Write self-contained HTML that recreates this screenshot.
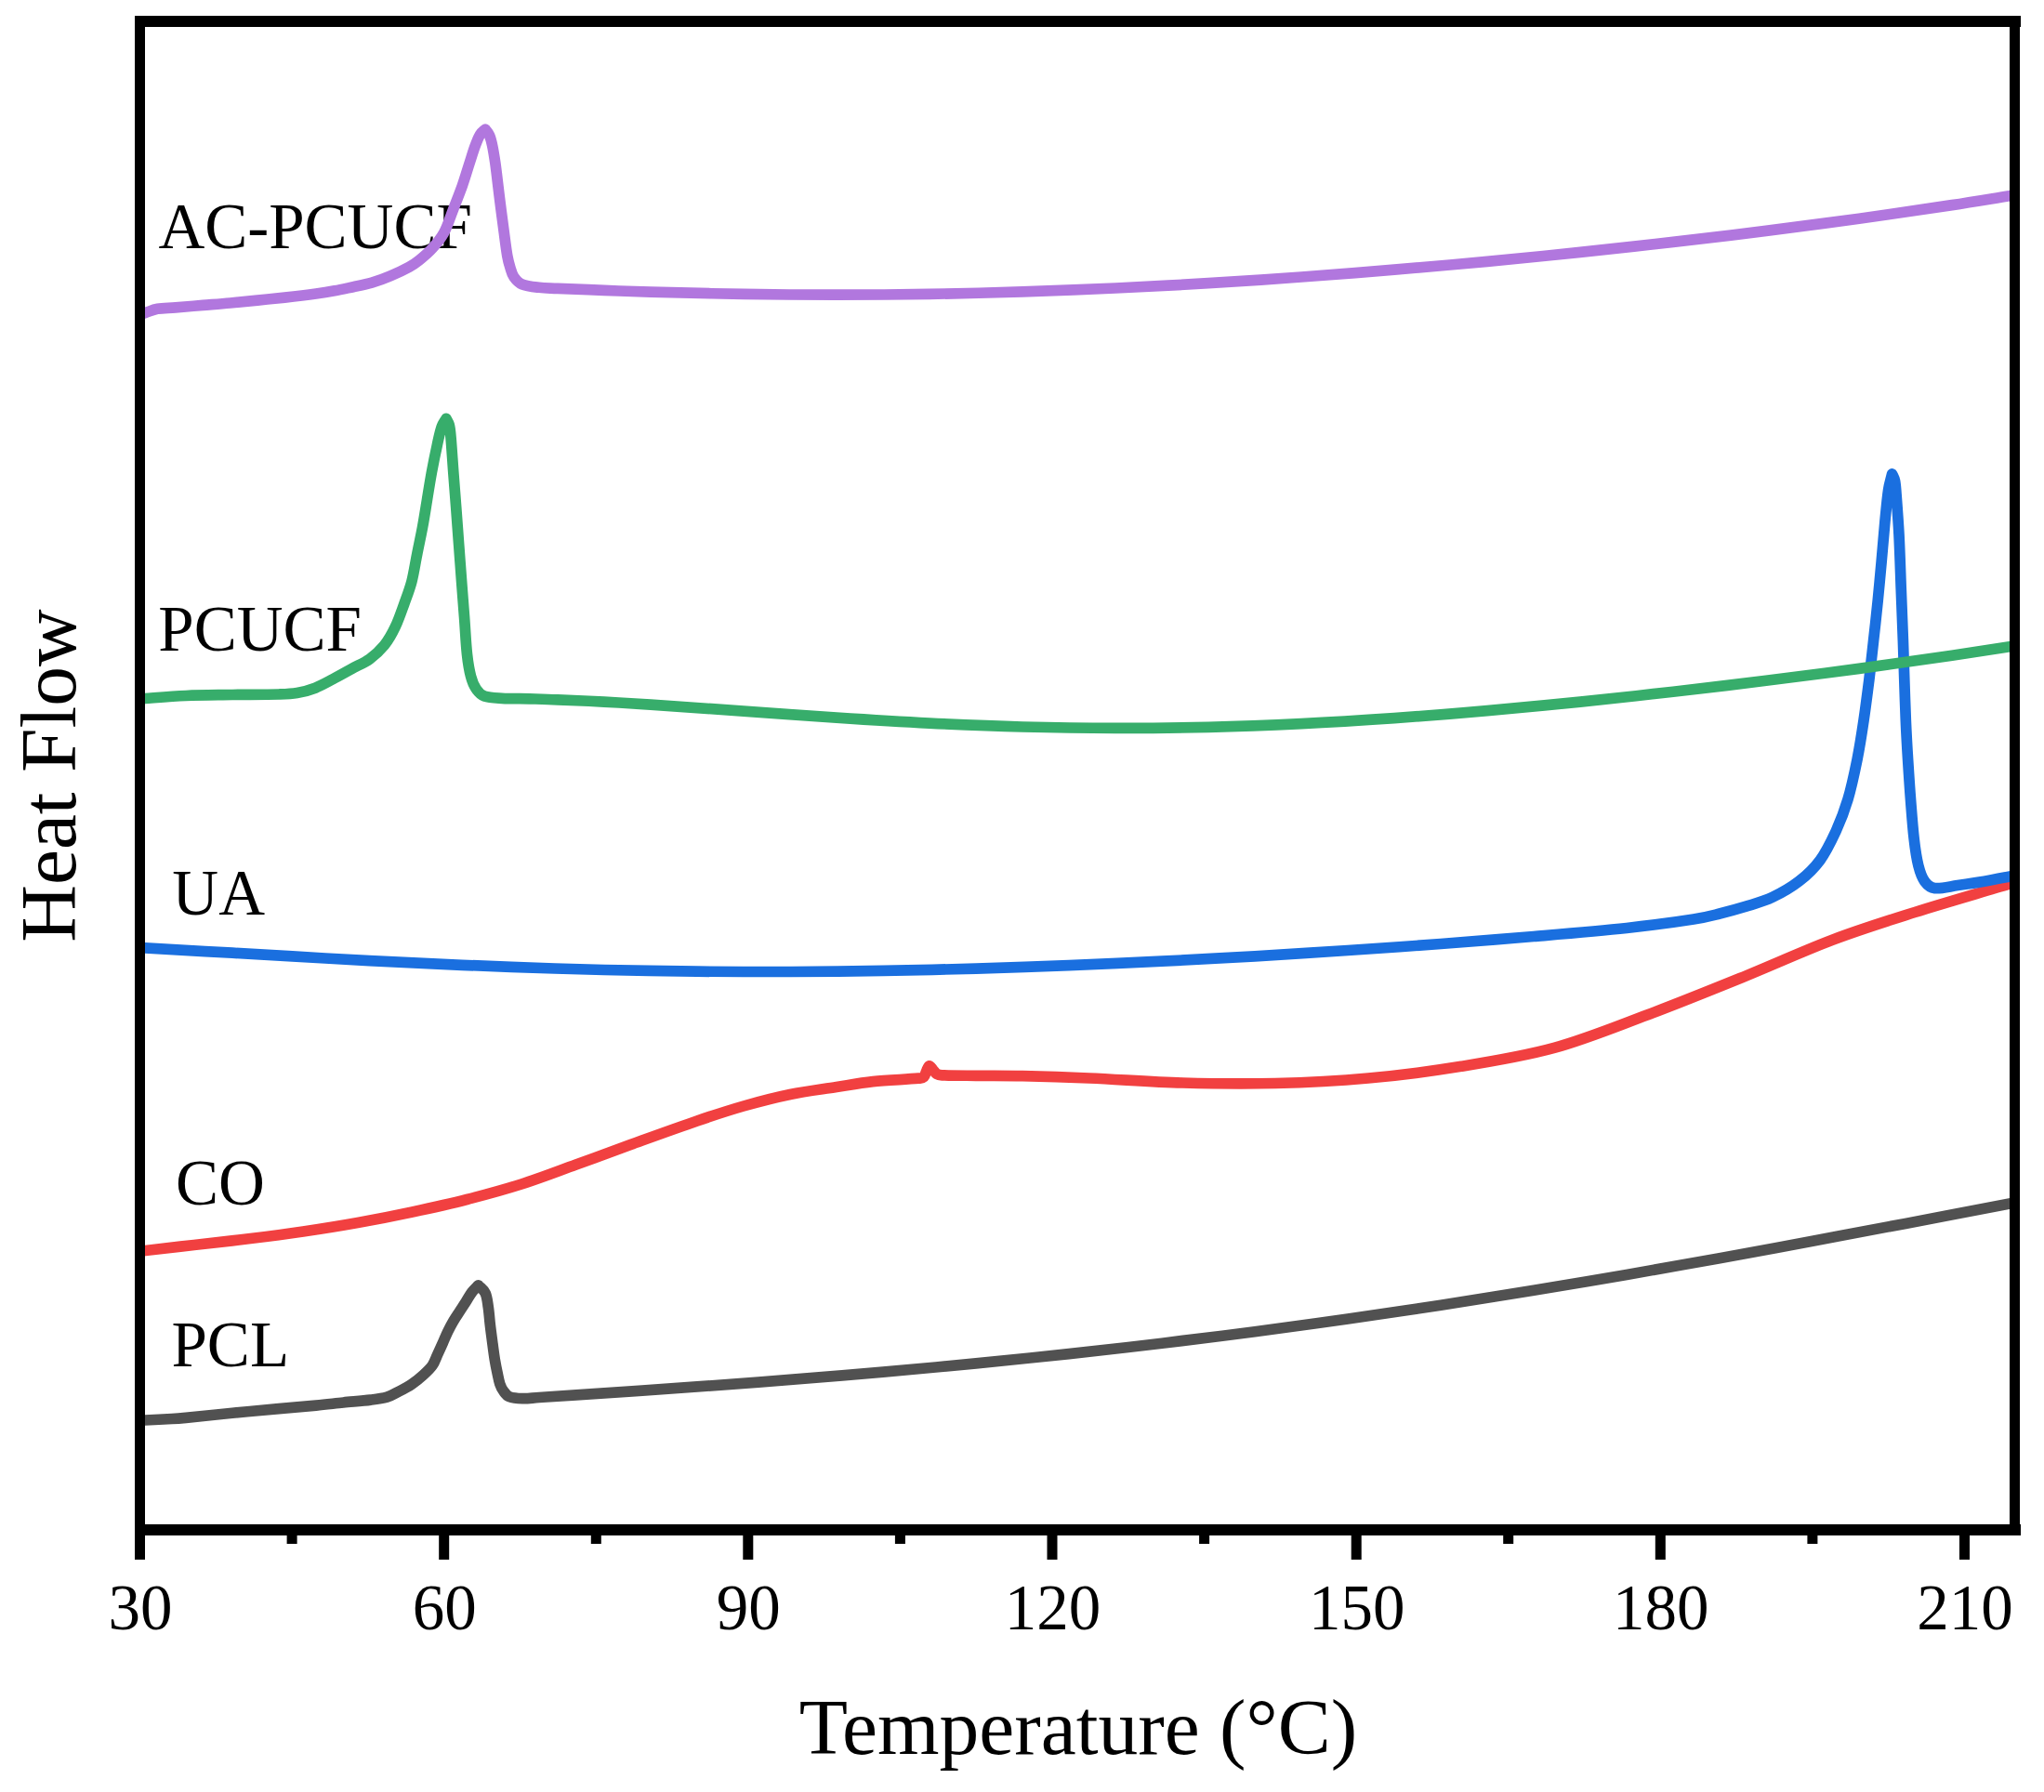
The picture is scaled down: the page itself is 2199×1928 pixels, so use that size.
<!DOCTYPE html>
<html><head><meta charset="utf-8"><title>DSC Heat Flow</title>
<style>
html,body{margin:0;padding:0;background:#fff;}
body{width:2199px;height:1928px;overflow:hidden;}
svg{display:block;}
svg text{font-family:"Liberation Serif","Times New Roman",serif;fill:#000;}
</style></head><body>
<svg width="2199" height="1928" viewBox="0 0 2199 1928">
<rect width="2199" height="1928" fill="#fff"/>
<g id="labels">
<text x="170.4" y="266.7" font-size="69.0">AC-PCUCF</text>
<text x="170.3" y="700.0" font-size="69.0">PCUCF</text>
<text x="185.3" y="983.8" font-size="69.0">UA</text>
<text x="189.0" y="1295.5" font-size="69.0">CO</text>
<text x="184.5" y="1470.3" font-size="69.0">PCL</text>
</g>
<g id="curves" clip-path="url(#plotclip)">
<clipPath id="plotclip"><rect x="150" y="23" width="2018" height="1623"/></clipPath>
<path d="M146.0 1528.4 C149.3 1528.3 151.2 1528.2 156.0 1528.0 C164.2 1527.6 176.5 1527.0 185.0 1526.5 C191.1 1526.1 192.3 1526.0 200.0 1525.3 C214.0 1524.0 233.3 1521.9 250.0 1520.3 C266.7 1518.7 284.2 1517.1 300.0 1515.7 C314.2 1514.4 327.5 1513.3 340.0 1512.1 C350.7 1511.1 359.6 1510.0 369.4 1509.0 C379.2 1508.0 389.9 1507.2 398.7 1506.1 C405.5 1505.3 411.0 1504.7 416.3 1503.2 C420.8 1501.9 424.0 1499.8 428.1 1497.6 C432.8 1495.2 438.2 1492.5 442.8 1489.4 C447.2 1486.4 451.4 1483.0 455.2 1479.5 C458.8 1476.2 462.6 1472.8 465.2 1469.0 C467.7 1465.5 468.7 1461.6 470.5 1457.7 C472.4 1453.6 474.3 1449.4 476.2 1445.2 C478.1 1441.0 479.8 1436.7 481.7 1432.7 C483.6 1428.8 485.5 1425.1 487.7 1421.4 C489.9 1417.6 492.6 1413.8 495.0 1410.1 C497.2 1406.7 499.4 1403.4 501.5 1400.1 C503.6 1396.8 505.5 1393.1 507.8 1390.1 C509.9 1387.3 512.3 1385.2 514.6 1382.8 C517.1 1385.6 520.6 1387.7 522.2 1391.3 C524.1 1395.5 524.5 1401.0 525.3 1406.4 C526.2 1412.3 526.6 1418.9 527.3 1425.2 C528.0 1431.4 528.9 1437.7 529.7 1443.9 C530.5 1450.2 531.3 1456.8 532.3 1462.7 C533.2 1468.1 534.2 1473.1 535.2 1477.8 C536.1 1481.9 536.7 1485.6 537.8 1489.0 C538.8 1491.9 539.9 1494.3 541.6 1496.5 C543.3 1498.8 544.8 1501.4 547.8 1502.6 C551.6 1504.1 556.9 1504.5 562.0 1504.6 C567.7 1504.8 572.2 1504.0 580.0 1503.5 C591.6 1502.7 605.0 1501.9 620.0 1500.9 C638.4 1499.6 659.2 1498.3 680.0 1496.8 C702.5 1495.3 724.2 1493.8 750.0 1491.9 C780.9 1489.7 816.7 1487.1 850.0 1484.4 C883.3 1481.8 916.7 1479.0 950.0 1476.1 C983.3 1473.2 1016.7 1470.1 1050.0 1466.9 C1083.3 1463.6 1116.7 1460.2 1150.0 1456.6 C1183.3 1453.0 1216.7 1449.2 1250.0 1445.2 C1283.3 1441.3 1316.7 1437.1 1350.0 1432.7 C1383.3 1428.3 1416.7 1423.8 1450.0 1419.0 C1483.3 1414.3 1516.7 1409.3 1550.0 1404.2 C1583.3 1399.0 1616.7 1393.7 1650.0 1388.3 C1683.3 1382.8 1716.7 1377.1 1750.0 1371.4 C1783.3 1365.6 1816.7 1359.7 1850.0 1353.7 C1883.3 1347.6 1916.7 1341.5 1950.0 1335.2 C1983.3 1329.0 2015.7 1322.9 2050.0 1316.4 C2086.3 1309.5 2130.7 1301.0 2162.0 1295.0 C2171.4 1293.2 2168.7 1293.7 2172.0 1293.1" fill="none" stroke="#515151" stroke-width="11.7" stroke-linejoin="round" stroke-linecap="butt"/>
<path d="M146.0 1346.7 C149.5 1346.3 150.0 1346.2 156.5 1345.5 C170.9 1343.8 190.8 1341.6 208.7 1339.5 C227.7 1337.3 247.8 1335.2 267.4 1332.8 C287.0 1330.4 306.6 1327.9 326.1 1325.0 C345.7 1322.1 365.3 1319.0 384.8 1315.5 C404.4 1312.0 424.0 1308.2 443.5 1304.0 C463.1 1299.8 482.8 1295.5 502.3 1290.5 C521.9 1285.5 541.5 1280.2 561.0 1274.0 C580.7 1267.7 600.1 1260.1 619.7 1253.0 C639.3 1245.9 657.7 1239.0 678.4 1231.5 C701.2 1223.3 727.9 1213.6 750.0 1206.0 C768.4 1199.7 783.3 1194.8 800.0 1190.0 C816.6 1185.3 833.3 1180.9 850.0 1177.5 C866.6 1174.1 884.2 1172.0 900.0 1169.5 C913.9 1167.3 925.2 1165.1 939.1 1163.6 C954.6 1162.0 974.6 1161.4 988.1 1160.2 C992.8 1159.8 992.5 1160.0 993.9 1158.7 C995.4 1157.2 995.9 1154.0 996.9 1151.9 C997.8 1150.0 998.7 1147.0 999.8 1146.8 C1000.9 1146.6 1002.4 1149.5 1003.7 1150.9 C1005.0 1152.3 1006.0 1154.3 1007.6 1155.3 C1009.2 1156.3 1009.4 1156.6 1013.5 1156.8 C1023.5 1157.3 1036.7 1157.2 1050.0 1157.3 C1065.5 1157.5 1081.5 1157.3 1100.0 1157.7 C1122.2 1158.2 1145.7 1158.9 1172.0 1160.0 C1203.0 1161.3 1238.7 1164.1 1272.0 1165.0 C1305.3 1165.9 1338.7 1166.3 1372.0 1165.5 C1405.3 1164.7 1438.7 1163.0 1472.0 1160.0 C1505.4 1157.0 1538.8 1152.7 1572.0 1147.3 C1605.4 1141.9 1639.0 1136.5 1672.0 1127.4 C1705.7 1118.1 1738.8 1104.4 1772.0 1092.0 C1805.4 1079.5 1838.7 1066.0 1872.0 1052.5 C1905.4 1039.0 1939.5 1023.3 1972.0 1011.0 C2002.1 999.6 2029.4 991.2 2060.0 981.5 C2092.8 971.2 2133.6 959.6 2162.0 951.0 C2170.9 948.3 2168.7 948.8 2172.0 947.7" fill="none" stroke="#F14040" stroke-width="11.7" stroke-linejoin="round" stroke-linecap="butt"/>
<path d="M146.0 1019.4 C149.3 1019.5 147.5 1019.4 156.0 1019.9 C182.1 1021.4 218.2 1023.4 250.0 1025.2 C282.8 1027.1 316.7 1029.1 350.0 1031.0 C383.3 1032.8 416.7 1034.6 450.0 1036.2 C483.3 1037.7 516.7 1039.2 550.0 1040.4 C583.3 1041.6 616.7 1042.7 650.0 1043.5 C683.3 1044.3 716.7 1044.8 750.0 1045.2 C783.3 1045.5 816.7 1045.6 850.0 1045.5 C883.3 1045.4 916.7 1045.0 950.0 1044.4 C983.3 1043.9 1016.7 1043.1 1050.0 1042.1 C1083.3 1041.1 1116.7 1040.0 1150.0 1038.7 C1183.3 1037.3 1216.7 1035.8 1250.0 1034.2 C1283.3 1032.5 1316.7 1030.7 1350.0 1028.8 C1383.3 1026.8 1416.7 1024.8 1450.0 1022.5 C1483.3 1020.3 1516.7 1018.0 1550.0 1015.5 C1583.3 1013.0 1616.7 1010.4 1650.0 1007.5 C1683.3 1004.7 1719.0 1001.8 1750.0 998.5 C1776.3 995.6 1801.5 992.2 1822.0 989.0 C1834.9 987.0 1840.7 985.3 1850.0 983.0 C1859.5 980.7 1869.1 978.1 1878.5 975.2 C1888.0 972.2 1897.7 969.7 1906.9 965.3 C1916.6 960.7 1926.8 954.9 1935.4 948.2 C1943.9 941.6 1951.6 934.2 1958.1 925.4 C1964.9 916.2 1970.2 904.9 1975.2 894.1 C1980.2 883.1 1984.4 872.2 1988.0 860.0 C1992.0 846.6 1995.1 831.6 1998.0 817.3 C2000.8 803.1 2003.0 788.9 2005.1 774.6 C2007.2 760.4 2009.0 746.1 2010.8 731.9 C2012.5 717.7 2014.0 703.4 2015.6 689.2 C2017.2 675.0 2018.8 660.7 2020.2 646.5 C2021.6 632.3 2022.9 618.0 2024.2 603.8 C2025.5 589.6 2026.6 574.7 2027.9 561.2 C2029.1 549.1 2030.1 537.0 2031.6 527.0 C2032.7 519.9 2034.3 515.6 2035.6 509.9 C2036.6 512.3 2037.9 513.9 2038.5 517.0 C2039.4 521.5 2039.5 525.3 2040.1 532.7 C2041.0 544.8 2042.2 560.0 2043.0 575.4 C2043.9 593.2 2044.5 613.3 2045.2 632.3 C2045.9 651.3 2046.8 671.4 2047.4 689.2 C2048.0 704.6 2048.3 717.7 2048.8 731.9 C2049.3 746.1 2049.7 760.4 2050.3 774.6 C2050.9 788.8 2051.7 803.1 2052.6 817.3 C2053.5 831.5 2054.4 845.8 2055.5 860.0 C2056.6 874.2 2057.7 889.7 2059.2 902.7 C2060.4 913.4 2061.7 922.7 2063.8 931.1 C2065.5 937.8 2067.4 943.8 2070.6 948.2 C2073.3 951.9 2076.5 955.0 2081.5 955.6 C2088.3 956.4 2097.6 953.7 2106.1 952.5 C2115.3 951.2 2125.2 949.8 2134.6 948.2 C2143.9 946.6 2154.4 944.5 2162.2 943.0 C2166.9 942.1 2168.7 941.8 2172.0 941.2" fill="none" stroke="#1A6FDF" stroke-width="11.7" stroke-linejoin="round" stroke-linecap="butt"/>
<path d="M150.0 752.0 C152.0 751.8 151.5 751.8 156.0 751.5 C168.2 750.6 184.8 749.1 200.0 748.5 C216.2 747.8 233.3 747.8 250.0 747.5 C266.7 747.3 285.7 747.4 300.0 747.0 C308.9 746.7 313.1 746.6 319.6 745.5 C326.2 744.4 332.7 742.7 339.1 740.2 C345.7 737.6 352.2 733.8 358.7 730.4 C365.3 726.9 371.8 723.2 378.3 719.6 C384.8 716.0 391.9 713.2 397.8 708.9 C403.6 704.7 409.0 699.8 413.5 694.2 C418.1 688.4 421.8 681.8 425.2 674.6 C428.9 666.8 432.0 657.5 435.0 649.2 C437.9 641.2 440.7 634.1 442.9 625.7 C445.3 616.5 446.7 606.1 448.7 596.3 C450.6 586.5 452.8 576.8 454.6 567.0 C456.4 557.2 457.9 547.4 459.5 537.6 C461.1 527.8 462.6 518.1 464.4 508.3 C466.2 498.5 468.3 487.9 470.3 478.9 C471.9 471.6 473.2 464.9 475.1 459.4 C476.4 455.4 478.4 453.4 480.0 450.4 C481.1 452.6 482.5 454.3 483.2 457.0 C484.1 460.5 484.4 463.0 484.9 469.1 C485.9 480.1 486.8 495.2 487.8 508.3 C488.8 521.3 489.8 534.4 490.8 547.4 C491.8 560.5 492.7 573.5 493.7 586.6 C494.7 599.6 495.6 612.7 496.6 625.7 C497.6 638.7 498.6 651.8 499.6 664.8 C500.6 677.9 501.2 692.3 502.5 704.0 C503.5 713.2 504.7 720.6 506.5 727.5 C507.9 733.0 509.7 737.4 512.3 741.2 C514.6 744.6 517.0 747.5 521.1 749.0 C526.3 750.9 532.8 750.9 540.0 751.3 C549.1 751.8 560.0 751.6 570.0 751.8 C580.0 752.1 588.4 752.3 600.0 752.8 C615.0 753.4 633.3 754.2 650.0 755.1 C666.7 756.0 679.3 756.7 700.0 758.1 C729.3 760.1 766.7 762.8 800.0 765.1 C833.3 767.5 866.7 770.1 900.0 772.2 C933.3 774.4 966.7 776.5 1000.0 778.1 C1033.3 779.7 1066.7 781.1 1100.0 782.0 C1133.3 782.9 1166.7 783.4 1200.0 783.4 C1233.3 783.5 1266.7 783.1 1300.0 782.3 C1333.3 781.5 1366.7 780.2 1400.0 778.6 C1433.3 777.0 1466.7 774.9 1500.0 772.6 C1533.3 770.3 1566.7 767.6 1600.0 764.6 C1633.3 761.7 1666.7 758.5 1700.0 755.1 C1733.3 751.7 1766.7 748.0 1800.0 744.2 C1833.3 740.4 1866.7 736.4 1900.0 732.3 C1933.3 728.2 1966.7 723.9 2000.0 719.4 C2033.3 714.8 2069.8 709.6 2100.0 705.2 C2123.8 701.7 2144.9 698.3 2162.0 695.7 C2168.9 694.6 2168.7 694.6 2172.0 694.1" fill="none" stroke="#37AD6B" stroke-width="11.7" stroke-linejoin="round" stroke-linecap="butt"/>
<path d="M150.0 338.5 C152.0 337.9 153.4 337.4 156.0 336.6 C159.9 335.4 164.4 333.2 169.4 332.3 C175.3 331.3 181.6 331.5 188.9 330.9 C197.9 330.2 208.5 329.2 218.3 328.4 C228.1 327.6 237.8 326.9 247.6 326.0 C257.4 325.1 267.2 324.1 277.0 323.1 C286.8 322.1 296.2 321.2 306.3 320.1 C317.2 318.9 329.9 317.4 340.0 316.0 C347.8 314.9 353.3 314.0 360.0 312.8 C366.7 311.6 373.3 310.1 380.0 308.7 C386.7 307.3 393.4 306.1 400.0 304.2 C406.7 302.2 413.4 299.7 420.0 296.9 C426.7 294.1 434.2 290.6 440.0 287.4 C444.5 284.9 447.2 283.1 451.0 280.0 C455.6 276.3 460.8 272.0 465.1 267.2 C469.7 262.1 474.2 256.9 477.7 250.3 C481.7 242.9 484.3 233.7 487.6 225.3 C490.8 217.0 494.2 208.6 497.2 200.2 C500.1 191.9 502.7 183.0 505.2 175.2 C507.4 168.4 509.3 162.0 511.4 156.4 C513.1 151.9 514.5 148.0 516.5 144.8 C518.1 142.2 520.2 141.0 522.1 139.1 C523.6 141.2 525.4 142.9 526.5 145.5 C527.9 148.7 528.7 152.1 529.6 156.4 C530.8 162.0 531.8 168.4 532.8 175.2 C533.9 183.0 534.9 191.9 535.9 200.2 C536.9 208.6 537.9 216.9 539.0 225.3 C540.1 233.6 541.2 242.0 542.3 250.3 C543.4 258.7 544.5 268.1 545.8 275.4 C546.7 280.6 547.7 284.0 548.9 287.9 C550.0 291.5 550.7 295.0 552.8 297.9 C555.0 301.0 557.6 304.2 561.6 305.9 C566.6 308.0 573.7 308.6 580.0 309.3 C586.5 310.1 591.0 309.9 600.0 310.3 C614.3 310.9 633.3 311.7 650.0 312.4 C666.7 313.0 679.3 313.5 700.0 314.1 C729.3 314.9 766.7 315.9 800.0 316.4 C833.3 316.9 866.7 317.2 900.0 317.2 C933.3 317.2 966.7 316.9 1000.0 316.4 C1033.3 315.8 1066.7 315.0 1100.0 313.9 C1133.3 312.9 1166.7 311.5 1200.0 310.0 C1233.3 308.5 1266.7 306.7 1300.0 304.7 C1333.3 302.7 1366.7 300.4 1400.0 298.0 C1433.3 295.6 1466.7 293.0 1500.0 290.2 C1533.3 287.4 1566.7 284.5 1600.0 281.3 C1633.3 278.2 1666.7 274.9 1700.0 271.4 C1733.3 267.9 1766.7 264.2 1800.0 260.4 C1833.3 256.6 1866.7 252.6 1900.0 248.4 C1933.3 244.2 1966.7 239.8 2000.0 235.2 C2033.3 230.6 2069.8 225.2 2100.0 220.6 C2123.8 217.0 2144.9 213.4 2162.0 210.7 C2168.9 209.6 2168.7 209.6 2172.0 209.0" fill="none" stroke="#B177DE" stroke-width="11.7" stroke-linejoin="round" stroke-linecap="butt"/>
</g>
<g id="frame" fill="#000">
<rect x="145" y="17" width="2029" height="12"/>
<rect x="145" y="1640" width="2029" height="12"/>
<rect x="145" y="17" width="11" height="1635"/>
<rect x="2162" y="17" width="11" height="1635"/>
</g>
<g id="ticks">
<rect x="145.0" y="1646" width="11" height="32" fill="#000"/>
<text x="151.0" y="1752.7" font-size="69.0" text-anchor="middle">30</text>
<rect x="472.2" y="1646" width="11" height="32" fill="#000"/>
<text x="478.2" y="1752.7" font-size="69.0" text-anchor="middle">60</text>
<rect x="799.3" y="1646" width="11" height="32" fill="#000"/>
<text x="805.3" y="1752.7" font-size="69.0" text-anchor="middle">90</text>
<rect x="1126.5" y="1646" width="11" height="32" fill="#000"/>
<text x="1132.5" y="1752.7" font-size="69.0" text-anchor="middle">120</text>
<rect x="1453.7" y="1646" width="11" height="32" fill="#000"/>
<text x="1459.7" y="1752.7" font-size="69.0" text-anchor="middle">150</text>
<rect x="1780.8" y="1646" width="11" height="32" fill="#000"/>
<text x="1786.8" y="1752.7" font-size="69.0" text-anchor="middle">180</text>
<rect x="2108.0" y="1646" width="11" height="32" fill="#000"/>
<text x="2114.0" y="1752.7" font-size="69.0" text-anchor="middle">210</text>
<rect x="308.6" y="1646" width="11" height="15" fill="#000"/>
<rect x="635.8" y="1646" width="11" height="15" fill="#000"/>
<rect x="962.9" y="1646" width="11" height="15" fill="#000"/>
<rect x="1290.1" y="1646" width="11" height="15" fill="#000"/>
<rect x="1617.2" y="1646" width="11" height="15" fill="#000"/>
<rect x="1944.4" y="1646" width="11" height="15" fill="#000"/>
</g>
<text x="1160" y="1887.4" font-size="85.5" text-anchor="middle">Temperature (°C)</text>
<text transform="translate(81,834.5) rotate(-90)" font-size="85.5" text-anchor="middle">Heat Flow</text>
</svg>
</body></html>
